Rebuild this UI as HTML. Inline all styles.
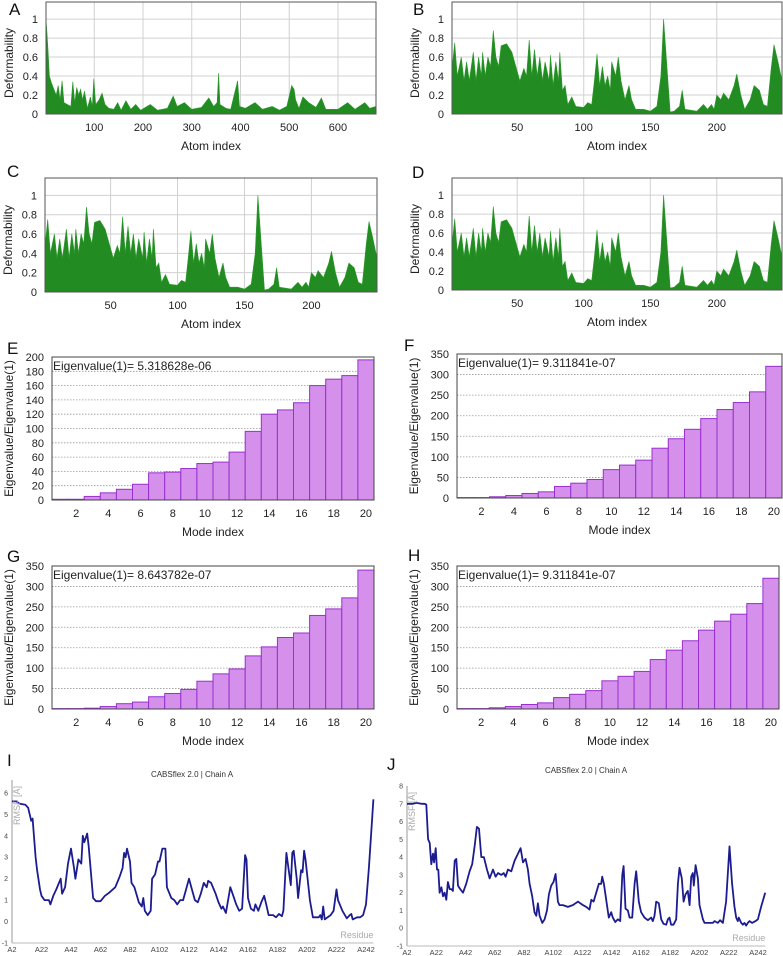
<!DOCTYPE html>
<html><head><meta charset="utf-8">
<style>
html,body{margin:0;padding:0;background:#fff;}
svg{display:block;font-family:"Liberation Sans",sans-serif;}
</style></head>
<body>
<svg id="fig" width="783" height="956" viewBox="0 0 783 956" xmlns="http://www.w3.org/2000/svg"></svg>
<script>
// ---------- Deformability data (atom index, value) ----------
const defA_atoms = [1,3,5,8,12,18,22,26,30,34,38,45,52,56,60,64,68,72,76,80,86,92,96,99,103,110,116,122,130,140,148,155,165,175,185,195,215,230,250,262,270,285,300,320,335,345,352,355,358,370,380,394,398,410,430,445,465,480,495,505,510,513,520,528,540,555,566,575,600,620,635,655,665,678];
const defA_vals  = [1.0,0.85,0.7,0.4,0.33,0.25,0.2,0.3,0.15,0.35,0.12,0.1,0.08,0.34,0.12,0.28,0.2,0.26,0.15,0.24,0.06,0.18,0.08,0.37,0.1,0.15,0.22,0.1,0.06,0.05,0.12,0.04,0.14,0.05,0.1,0.04,0.1,0.04,0.06,0.19,0.08,0.12,0.05,0.07,0.17,0.08,0.12,0.43,0.1,0.06,0.05,0.35,0.08,0.06,0.12,0.05,0.08,0.04,0.08,0.3,0.26,0.15,0.06,0.18,0.12,0.07,0.17,0.05,0.05,0.12,0.05,0.12,0.06,0.08];
const defB_atoms = [1,3,5,8,10,12,14,17,19,21,23,24,26,28,30,32,34,36,38,42,46,50,52,55,57,59,61,63,65,67,69,71,74,75,77,79,81,82,84,86,88,91,94,100,103,106,108,110,112,114,116,118,120,121,124,126,128,131,134,136,139,145,150,155,158,160,163,165,168,172,174,176,185,190,193,196,198,200,203,205,209,213,215,218,221,225,228,232,235,238,241,243,246,249];
const defB_vals  = [0.47,0.75,0.4,0.6,0.35,0.55,0.35,0.65,0.35,0.6,0.4,0.65,0.4,0.6,0.5,0.88,0.6,0.5,0.72,0.74,0.65,0.45,0.35,0.48,0.4,0.78,0.4,0.68,0.4,0.6,0.35,0.55,0.35,0.62,0.3,0.55,0.35,0.65,0.25,0.3,0.1,0.18,0.08,0.07,0.12,0.1,0.35,0.63,0.3,0.5,0.3,0.4,0.25,0.55,0.4,0.6,0.35,0.15,0.3,0.15,0.05,0.05,0.03,0.08,0.4,1.0,0.4,0.02,0.03,0.08,0.25,0.05,0.03,0.1,0.05,0.1,0.05,0.2,0.15,0.22,0.15,0.3,0.42,0.2,0.05,0.15,0.3,0.25,0.1,0.08,0.5,0.73,0.55,0.35];
const defC_atoms = defB_atoms;
const defC_vals  = defB_vals;
const defD_atoms = defB_atoms;
const defD_vals  = defB_vals;
const defYTicks = [0,0.2,0.4,0.6,0.8,1];
const defYTickLabels = ["0","0.2","0.4","0.6","0.8","1"];
const defAXTicks = [100,200,300,400,500,600];
const defBXTicks = [50,100,150,200];

// ---------- Eigenvalue ratio data ----------
const modes = [1,2,3,4,5,6,7,8,9,10,11,12,13,14,15,16,17,18,19,20];
const modeTicks = [2,4,6,8,10,12,14,16,18,20];
const eigE = [1,1,5,10,15,22,38,39,44,51,53,67,96,120,126,136,160,169,174,196];
const eigF = [1,1,3,6,11,15,28,36,45,69,80,92,121,144,167,193,215,232,258,320];
const eigG = [1,1,2,6,13,17,30,38,48,68,86,98,130,152,175,186,229,245,272,340];
const eigH = [1,1,3,6,11,15,28,36,45,69,80,92,121,144,167,193,215,232,258,320];
const ticksE = [0,20,40,60,80,100,120,140,160,180,200];
const ticks350 = [0,50,100,150,200,250,300,350];

// ---------- RMSF data ----------
const rmsfI_res = [2,5,7,11,13,15,16,18,19,21,22,24,27,28,30,32,35,36,38,40,42,44,45,47,49,50,51,53,54,57,59,62,65,68,72,75,77,78,79,80,82,83,85,88,90,91,92,94,96,97,99,101,102,104,106,107,110,112,114,116,118,120,122,124,126,128,130,132,134,135,137,140,142,144,145,147,150,152,154,156,158,160,161,162,164,166,167,169,171,173,175,176,179,181,183,185,186,188,190,191,192,193,195,196,198,199,200,201,204,206,210,211,212,213,214,218,220,222,223,226,229,231,232,233,236,238,240,242,244,247];
const rmsfI_val = [5.6,5.6,5.5,5.45,5.3,4.7,4.8,3.0,2.4,1.5,1.2,1.0,1.0,0.8,1.2,1.5,2.0,1.3,1.6,2.7,3.4,2.5,2.0,2.9,2.7,4.0,3.7,4.1,3.5,1.1,0.95,0.95,1.2,1.35,1.6,2.1,2.5,3.2,3.0,3.4,2.8,1.8,1.6,0.9,0.7,1.1,0.5,0.3,0.5,2.0,2.2,2.8,2.8,3.4,3.4,1.6,1.1,1.0,0.8,1.0,1.0,1.5,2.0,1.5,1.0,0.9,1.3,1.8,1.6,1.9,1.8,1.3,0.9,0.6,0.7,0.4,1.6,1.2,0.8,0.5,0.6,3.1,2.9,1.1,0.6,0.5,0.8,0.5,0.9,1.2,0.6,0.3,0.3,0.2,0.35,0.25,0.5,3.2,2.2,1.7,3.2,3.3,2.0,1.1,2.4,2.3,3.3,2.9,1.0,0.2,0.2,0.3,0.1,0.7,0.1,0.3,0.5,1.5,1.0,0.5,0.15,0.3,0.35,0.1,0.2,0.2,0.3,0.8,2.5,5.7];
const rmsfJ_res = [2,6.1,8.4,11.8,14.1,15.2,16.4,17.5,18.6,19.8,20.5,21.6,22.5,23.4,24.3,25.5,26.6,27.7,28.9,30,31.2,32.3,33.4,34.6,35.7,36.9,38.4,40.3,42.5,44.8,46.6,48.2,49.8,51.2,52.8,54.6,56.7,58.5,60.8,62.6,64.2,66.5,68.1,69.4,71,73.3,75.6,77.9,79.7,81.3,83.1,84.7,85.8,87.6,89.2,90.4,91.5,92.7,94.5,96.1,97.7,99,100.6,102.2,103.6,105.2,106.3,108.6,112,115.4,118.9,120.5,122.3,124.6,126.8,128,129.6,131.4,133.2,134.8,135.5,136.6,138.2,140,141.6,142.7,144.4,146.2,147.8,149.2,150.1,151.4,153,154.2,156,157.6,158.7,160.5,162.1,164.4,166.7,169,170.1,171.2,172.4,174.2,175.8,177.4,179.2,180.4,181.5,182.6,184.2,186.1,187.2,188.3,189.9,191.1,192.4,194,195.2,196.3,197.4,198.1,199.3,200.9,202,204.3,205.4,208.8,211.1,212.3,214.5,216.1,218,220.2,222.5,224.3,225.9,227.1,228.2,228.9,230.5,231.6,232.8,233.9,235,236.2,238,240.3,241.9,244.1,246.9];
const rmsfJ_val = [7.0,7.0,7.05,7.0,7.0,6.95,5.0,4.8,3.6,4.2,3.7,4.5,3.3,3.3,2.0,2.3,1.8,2.0,1.6,2.6,2.2,2.2,2.1,3.8,3.9,2.4,2.2,2.0,2.5,3.2,3.6,4.6,5.7,5.6,4.0,4.0,3.3,2.8,3.3,2.9,3.1,3.0,3.1,2.9,3.3,3.2,3.8,4.2,4.5,3.7,3.9,3.3,2.5,1.8,0.9,0.7,1.4,0.7,0.3,0.5,1.0,1.9,2.4,2.6,3.05,1.5,1.3,1.3,1.2,1.3,1.5,1.4,1.3,1.2,1.05,1.6,1.5,2.0,2.5,2.5,2.9,2.5,1.6,0.6,0.9,0.6,0.35,0.5,0.4,3.0,3.5,1.1,1.0,0.6,0.6,2.5,3.2,1.5,0.9,0.6,0.45,0.6,0.4,0.7,1.5,1.4,0.5,0.25,0.2,0.5,0.6,0.2,0.2,0.5,2.5,3.4,2.8,1.5,1.9,2.1,1.3,2.9,3.1,2.4,3.55,2.8,1.3,0.5,0.3,0.3,0.3,0.4,0.3,0.45,0.3,1.5,4.6,2.5,1.2,0.6,0.4,0.6,0.3,0.2,0.3,0.15,0.3,0.4,0.3,0.4,0.5,1.2,2.0];
const resTicks = [2,22,42,62,82,102,122,142,162,182,202,222,242];
const rmsfITicks = [-1,0,1,2,3,4,5,6];
const rmsfJTicks = [-1,0,1,2,3,4,5,6,7,8];

const NS = "http://www.w3.org/2000/svg";
const svg = document.getElementById('fig');
function el(tag, attrs, parent, text){
  const e = document.createElementNS(NS, tag);
  for (const k in attrs) e.setAttribute(k, attrs[k]);
  if (text !== undefined) e.textContent = text;
  (parent || svg).appendChild(e);
  return e;
}
function lin(d0,d1,r0,r1){ return v => r0 + (v-d0)*(r1-r0)/(d1-d0); }

function panelLetter(t, x, y){
  const e = el('text',{x:x,y:y,'font-size':17,fill:'#111'},svg,t);
  
  
}

function deformChart(id, L, R, T, B, xmax, atoms, vals, xticks){
  const g = el('g',{});
  
  
  const sx = lin(1, xmax, L, R), sy = lin(0, 1.18, B, T);
  defYTicks.forEach((t,i)=>{
    if (t>0) el('line',{x1:L,x2:R,y1:sy(t),y2:sy(t),stroke:'#d0d0d0','stroke-width':1},g);
    const lb = el('text',{x:L-8,y:sy(t)+4,'font-size':11,'text-anchor':'end',fill:'#222'},g,defYTickLabels[i]);
    
    
  });
  xticks.forEach(t=>{
    el('line',{x1:sx(t),x2:sx(t),y1:T,y2:B,stroke:'#d0d0d0','stroke-width':1},g);
    const lb = el('text',{x:sx(t),y:B+17,'font-size':11,'text-anchor':'middle',fill:'#222'},g,String(t));
    
    
  });
  let d = 'M'+sx(atoms[0])+','+B;
  atoms.forEach((a,i)=>{ d += ' L'+sx(a).toFixed(1)+','+sy(vals[i]).toFixed(1); });
  d += ' L'+sx(atoms[atoms.length-1])+','+B+' Z';
  const area = el('path',{d:d,fill:'#228b22',stroke:'#2e9a2e','stroke-width':0.6},g);
  
  
  const fr = el('rect',{x:L,y:T,width:R-L,height:B-T,fill:'none',stroke:'#555','stroke-width':1},g);
  
  
  const xt = el('text',{x:(L+R)/2,y:B+36,'font-size':12,'text-anchor':'middle',fill:'#222'},g,'Atom index');
  
  
  const yt = el('text',{x:0,y:0,'font-size':12,'text-anchor':'middle',fill:'#222',transform:'translate('+(L-33)+','+((T+B)/2+5)+') rotate(-90)'},g,'Deformability');
  
  
}

function eigChart(id, L, R, T, B, ymax, vals, yticks, eigText){
  const g = el('g',{});
  
  
  const sx = lin(0.5, 20.5, L, R), sy = lin(0, ymax, B, T);
  yticks.forEach(t=>{
    if (t>0 && t<ymax) el('line',{x1:L,x2:R,y1:sy(t),y2:sy(t),stroke:'#999','stroke-width':0.8,'stroke-dasharray':'1.5,1.5'},g);
    const lb = el('text',{x:L-8,y:sy(t)+4,'font-size':11,'text-anchor':'end',fill:'#222'},g,String(t));
    
    
  });
  modeTicks.forEach(t=>{
    const lb = el('text',{x:sx(t),y:B+17,'font-size':11,'text-anchor':'middle',fill:'#222'},g,String(t));
    
    
  });
  modes.forEach((m,i)=>{
    const x0 = sx(m-0.5), x1 = sx(m+0.5), y = sy(vals[i]);
    const r = el('rect',{x:x0,y:y,width:x1-x0,height:B-y,fill:'#d490ea',stroke:'#9a2fd0','stroke-width':1},g);
    
    
  });
  const fr = el('rect',{x:L,y:T,width:R-L,height:B-T,fill:'none',stroke:'#444','stroke-width':1},g);
  
  
  const et = el('text',{x:L+1,y:T+13,'font-size':12,fill:'#222'},g,eigText);
  
  
  const xt = el('text',{x:(L+R)/2,y:B+36,'font-size':12,'text-anchor':'middle',fill:'#222'},g,'Mode index');
  
  
  const yt = el('text',{x:0,y:0,'font-size':12,'text-anchor':'middle',fill:'#222',transform:'translate('+(L-39)+','+((T+B)/2)+') rotate(-90)'},g,'Eigenvalue/Eigenvalue(1)');
  
  
}

function rmsfChart(id, L, R, T, B, ymin, ymax, yticks, res, vals, cx, ty, yLabel){
  const g = el('g',{});
  
  
  const sx = lin(2, 242, L, R), sy = lin(ymin, ymax, B, T);
  const tt = el('text',{x:cx,y:ty,'font-size':8,'text-anchor':'middle',fill:'#333'},g,'CABSflex 2.0 | Chain A');
  
  
  el('line',{x1:L,x2:L,y1:sy(ymax),y2:B,stroke:'#999','stroke-width':1},g);
  el('line',{x1:L,x2:sx(247),y1:B,y2:B,stroke:'#bbb','stroke-width':1},g);
  yticks.forEach(t=>{
    const lb = el('text',{x:L-4,y:sy(t)+2.5,'font-size':7,'text-anchor':'end',fill:'#444'},g,String(t));
    
    
  });
  resTicks.forEach(t=>{
    const lb = el('text',{x:sx(t),y:B+9,'font-size':7.5,'text-anchor':'middle',fill:'#444'},g,'A'+t);
    
    
  });
  let d = '';
  res.forEach((r,i)=>{ d += (i?' L':'M')+sx(r).toFixed(1)+','+sy(vals[i]).toFixed(1); });
  const ln = el('path',{d:d,fill:'none',stroke:'#1c1c90','stroke-width':1.8,'stroke-linejoin':'round'},g);
  
  
  const yt = el('text',{x:0,y:0,'font-size':9,'text-anchor':'end',fill:'#aaa',transform:'translate('+(L+8)+','+(sy(ymax)+6)+') rotate(-90)'},g,yLabel);
  
  
  const xt = el('text',{x:sx(247),y:B-5,'font-size':9,'text-anchor':'end',fill:'#aaa'},g,'Residue');
  
  
}

deformChart('a', 46, 376, 2, 114, 678, defA_atoms, defA_vals, defAXTicks);
deformChart('b', 452, 782, 2, 114, 249, defB_atoms, defB_vals, defBXTicks);
deformChart('c', 45, 377, 178, 292, 249, defC_atoms, defC_vals, defBXTicks);
deformChart('d', 452, 782, 178, 290, 249, defD_atoms, defD_vals, defBXTicks);
eigChart('e', 52, 374, 357, 500, 200, eigE, ticksE, 'Eigenvalue(1)= 5.318628e-06');
eigChart('f', 457, 782, 354, 498, 350, eigF, ticks350, 'Eigenvalue(1)= 9.311841e-07');
eigChart('g', 52, 374, 566, 709, 350, eigG, ticks350, 'Eigenvalue(1)= 8.643782e-07');
eigChart('h', 457, 779, 566, 709, 350, eigH, ticks350, 'Eigenvalue(1)= 9.311841e-07');
rmsfChart('i', 12, 366, 780, 943, -1, 6.6, rmsfITicks, rmsfI_res, rmsfI_val, 192, 777, 'RMSF [Å]');
rmsfChart('j', 407, 758, 786, 946, -1, 8, rmsfJTicks, rmsfJ_res, rmsfJ_val, 586, 773, 'RMSF [Å]');

panelLetter('A', 9, 15);
panelLetter('B', 413, 15);
panelLetter('C', 7, 177);
panelLetter('D', 412, 178);
panelLetter('E', 7, 354);
panelLetter('F', 404, 351);
panelLetter('G', 7, 562);
panelLetter('H', 408, 561);
panelLetter('I', 7, 766);
panelLetter('J', 387, 770);
</script>
</body></html>
